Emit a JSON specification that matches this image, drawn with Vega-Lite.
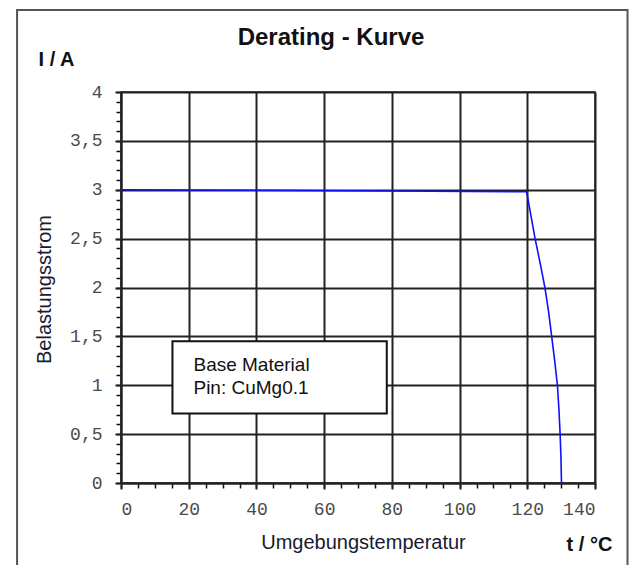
{
  "$schema": "https://vega.github.io/schema/vega-lite/v6.json",
  "autosize": {"type": "none"},
  "width": 474,
  "height": 391,
  "padding": {"left": 121, "top": 92, "right": 37, "bottom": 82},
  "background": "white",
  "config": {
    "view": {"stroke": "#222", "strokeWidth": 1.5},
    "font": "Liberation Sans"
  },
  "title": {
    "text": "Derating - Kurve",
    "font": "Liberation Sans",
    "fontSize": 24,
    "fontWeight": "bold",
    "color": "#111",
    "anchor": "middle",
    "baseline": "alphabetic",
    "dx": -27,
    "offset": -60
  },
  "resolve": {"axis": {"x": "independent", "y": "independent"}},
  "layer": [
    {
      "data": {"values": [{"fx": -30.7, "fx2": 149.6, "fy": 4.84, "fy2": -1.0}]},
      "mark": {"type": "rect", "fillOpacity": 0, "stroke": "#555", "strokeWidth": 2},
      "encoding": {
        "x": {"field": "fx", "type": "quantitative",
          "scale": {"domain": [0, 140], "nice": false, "zero": true},
          "axis": {"orient": "bottom", "values": [0,5,10,15,20,25,30,35,40,45,50,55,60,65,70,75,80,85,90,95,100,105,110,115,120,125,130,135,140],
            "labels": false, "domain": false, "grid": false, "ticks": true, "tickSize": 5, "tickColor": "#111", "tickWidth": 1.5,
            "title": "t / °C", "titleFont": "Liberation Sans", "titleFontSize": 20, "titleFontWeight": "bold", "titleColor": "#111",
            "titleX": 468, "titleY": 67, "titleBaseline": "alphabetic", "titleAlign": "center"}},
        "x2": {"field": "fx2"},
        "y": {"field": "fy", "type": "quantitative",
          "scale": {"domain": [0, 4], "nice": false, "zero": true},
          "axis": {"orient": "left", "values": [0,0.1,0.2,0.3,0.4,0.5,0.6,0.7,0.8,0.9,1,1.1,1.2,1.3,1.4,1.5,1.6,1.7,1.8,1.9,2,2.1,2.2,2.3,2.4,2.5,2.6,2.7,2.8,2.9,3,3.1,3.2,3.3,3.4,3.5,3.6,3.7,3.8,3.9,4],
            "labels": false, "domain": false, "grid": false, "ticks": true, "tickSize": 5, "tickColor": "#111", "tickWidth": 1.5,
            "title": "I / A", "titleFont": "Liberation Sans", "titleFontSize": 20, "titleFontWeight": "bold", "titleColor": "#111",
            "titleAngle": 0, "titleX": -65, "titleY": -27, "titleBaseline": "alphabetic", "titleAlign": "center"}},
        "y2": {"field": "fy2"}
      }
    },
    {
      "data": {"values": [
        {"t": 0, "i": 3.0},
        {"t": 40, "i": 2.995},
        {"t": 80, "i": 2.987},
        {"t": 119.8, "i": 2.98},
        {"t": 121.0, "i": 2.75},
        {"t": 122.3, "i": 2.5},
        {"t": 123.8, "i": 2.25},
        {"t": 125.2, "i": 2.0},
        {"t": 126.3, "i": 1.75},
        {"t": 127.2, "i": 1.5},
        {"t": 128.1, "i": 1.25},
        {"t": 128.9, "i": 1.0},
        {"t": 129.35, "i": 0.75},
        {"t": 129.7, "i": 0.5},
        {"t": 129.95, "i": 0.25},
        {"t": 130.1, "i": 0.0}
      ]},
      "mark": {"type": "line", "color": "#1010ff", "strokeWidth": 1.6},
      "encoding": {
        "x": {"field": "t", "type": "quantitative",
          "scale": {"domain": [0, 140], "nice": false, "zero": true},
          "axis": {"orient": "bottom", "values": [0,20,40,60,80,100,120,140],
            "grid": true, "gridColor": "#222", "gridWidth": 2, "gridOpacity": 1,
            "domain": true, "domainColor": "#222", "domainWidth": 2,
            "ticks": true, "tickSize": 6, "tickColor": "#222", "tickWidth": 2,
            "labelFont": "Liberation Mono", "labelFontSize": 18, "labelColor": "#4a4a4a", "labelPadding": 11,
            "title": "Umgebungstemperatur", "titleFont": "Liberation Sans", "titleFontSize": 20, "titleFontWeight": "normal", "titleColor": "#1a1a30",
            "titleX": 242, "titleY": 65, "titleBaseline": "alphabetic", "titleAlign": "center"}},
        "y": {"field": "i", "type": "quantitative",
          "scale": {"domain": [0, 4], "nice": false, "zero": true},
          "axis": {"orient": "left", "values": [0,0.5,1,1.5,2,2.5,3,3.5,4],
            "grid": true, "gridColor": "#222", "gridWidth": 2, "gridOpacity": 1,
            "domain": true, "domainColor": "#222", "domainWidth": 2,
            "ticks": true, "tickSize": 6, "tickColor": "#222", "tickWidth": 2,
            "labelExpr": "replace(toString(datum.value), '.', ',')",
            "labelFont": "Liberation Mono", "labelFontSize": 18, "labelColor": "#4a4a4a", "labelPadding": 13,
            "title": "Belastungsstrom", "titleFont": "Liberation Sans", "titleFontSize": 20, "titleFontWeight": "normal", "titleColor": "#1a1a30",
            "titleAngle": -90, "titleX": -77, "titleY": 197, "titleBaseline": "middle", "titleAlign": "center"}}
      }
    },
    {
      "data": {"values": [{"bx": 15.2, "bx2": 78.5, "by": 1.45, "by2": 0.71}]},
      "mark": {"type": "rect", "fill": "white", "stroke": "#111", "strokeWidth": 2},
      "encoding": {
        "x": {"field": "bx", "type": "quantitative", "scale": {"domain": [0, 140], "nice": false, "zero": true}, "axis": null},
        "x2": {"field": "bx2"},
        "y": {"field": "by", "type": "quantitative", "scale": {"domain": [0, 4], "nice": false, "zero": true}, "axis": null},
        "y2": {"field": "by2"}
      }
    },
    {
      "data": {"values": [
        {"label": "Base Material", "lx": 21.4, "ly": 1.21},
        {"label": "Pin: CuMg0.1", "lx": 21.4, "ly": 0.97}
      ]},
      "mark": {"type": "text", "align": "left", "baseline": "middle", "font": "Liberation Sans", "fontSize": 19, "color": "#111"},
      "encoding": {
        "x": {"field": "lx", "type": "quantitative", "scale": {"domain": [0, 140], "nice": false, "zero": true}, "axis": null},
        "y": {"field": "ly", "type": "quantitative", "scale": {"domain": [0, 4], "nice": false, "zero": true}, "axis": null},
        "text": {"field": "label"}
      }
    }
  ]
}
